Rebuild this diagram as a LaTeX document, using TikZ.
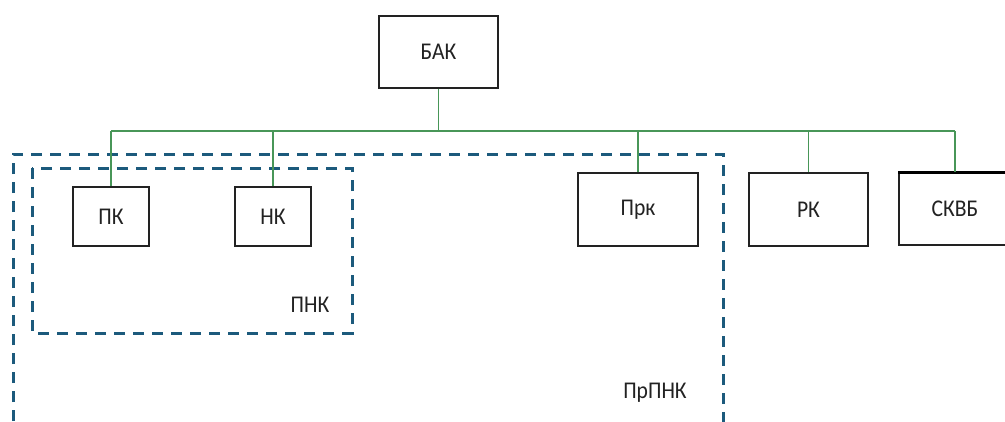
\documentclass[tikz,border=0pt]{standalone}
\usepackage{fontspec}
\setmainfont{Carlito}[FakeStretch=0.9]
\definecolor{framecol}{RGB}{28,90,124}
\definecolor{linkcol}{RGB}{72,150,88}
\definecolor{inkcol}{RGB}{34,34,34}
\begin{document}
\begin{tikzpicture}[x=1pt,y=-1pt,
  box/.style={draw=inkcol,line width=1.4pt,fill=white,inner sep=0pt,
    font=\fontsize{24}{28}\selectfont,text=inkcol},
  link/.style={draw=linkcol,line width=1.2pt},
  frame/.style={draw=framecol,line width=3pt,dash pattern=on 11pt off 8pt},
  lbl/.style={font=\fontsize{24}{28}\selectfont,text=inkcol,inner sep=0pt}]
\clip (0,0) rectangle (1005,421);
\fill[white] (0,0) rectangle (1005,421);

% group frames
\draw[frame] (13,440) -- (13,154) -- (723,154) -- (723,440);
\draw[frame] (32,168) rectangle (352,333);
\node[lbl] (pnk) at (310,305) {ПНК};
\node[lbl] (prpnk) at (655,393) {ПрПНК};

% boxes
\node[box,minimum width=119pt,minimum height=72pt] (bak) at (438.5,52) {БАК};
\node[box,minimum width=76pt,minimum height=59pt] (pk) at (111,216.5) {ПК};
\node[box,minimum width=76pt,minimum height=59pt] (nk) at (273,216.5) {НК};
\node[box,minimum width=120pt,minimum height=73pt] (prk) at (638,209.5) {Прк};
\node[box,minimum width=119pt,minimum height=73pt] (rk) at (808.5,209.5) {РК};
\node[box,minimum width=112pt,minimum height=72pt] (skvb) at (955,209) {СКВБ};
\draw[black,line width=3pt] (skvb.north west) -- (skvb.north east);

% bus
\coordinate (bus) at (438.5,131);
\draw[link] (bak.south) -- (bus);
\draw[link] (pk.north |- bus) -- (skvb.north |- bus);
\foreach \n in {pk,nk,prk,rk,skvb}
  \draw[link] (\n.north |- bus) -- (\n.north);
\end{tikzpicture}
\end{document}
